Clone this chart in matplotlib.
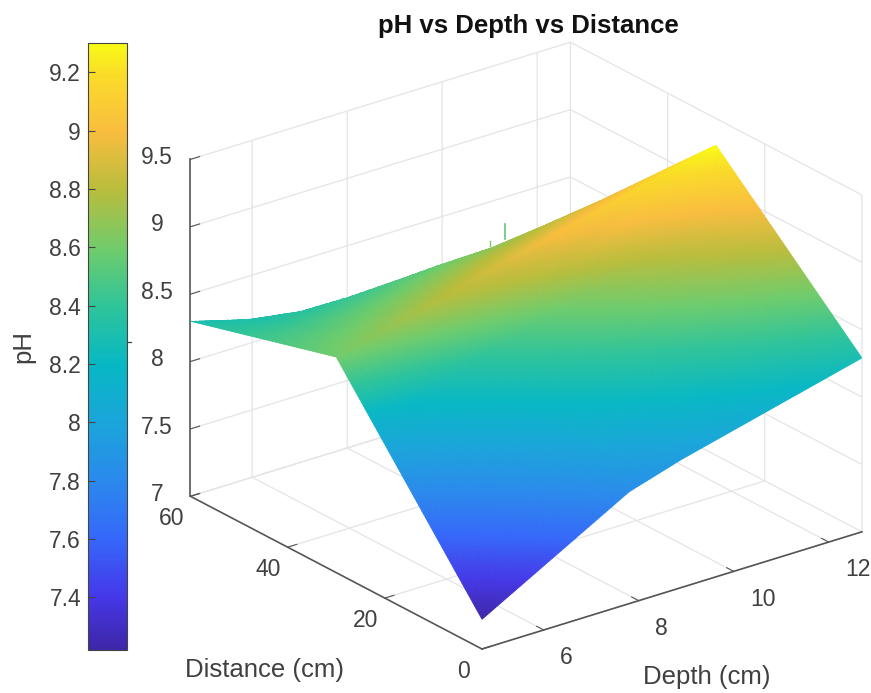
import numpy as np
import matplotlib
matplotlib.use("Agg")
import matplotlib.pyplot as plt
from matplotlib.colors import LinearSegmentedColormap, Normalize
from matplotlib.cm import ScalarMappable
from matplotlib.lines import Line2D
from matplotlib.ticker import FormatStrFormatter, FuncFormatter
from mpl_toolkits.mplot3d import proj3d

plt.rcParams['font.family'] = ['Liberation Sans', 'DejaVu Sans']

# ---- data ----
# near edge (distance 0)
near_depth = [4.7, 7.8, 8.9, 12.7]
near_ph = [7.22, 7.83, 7.95, 8.29]
# crease (distance 30)
crease_depth = [4.7, 12.7]
crease_ph = [8.60, 9.30]
# far crest of the surface, then the hidden far side
crest_depth = [4.7, 5.5, 6.2, 7.0, 7.8, 8.5, 9.3, 10.1, 11.0, 11.9, 12.7]
crest_dist = [59.9, 56, 52, 50, 48, 46, 43, 40, 37, 33, 30.5]
crest_ph = [8.30, 8.30, 8.36, 8.416, 8.49, 8.566, 8.665, 8.80, 8.947, 9.147, 9.285]
far_ph = [8.30, 8.18, 8.05, 7.95, 7.90, 7.90, 7.90, 7.90, 7.90, 7.90, 7.90]
# colour read in the front slope runs a little below the height there (distance 22)
tint_depth = [4.7, 8.0, 12.7]
tint_ph = [-0.13, -0.10, 0.0]

spike_depth = [11.32, 11.32]
spike_dist = [60, 60]
spike_ph = [8.19, 8.30]
spike2_depth = [11.0, 11.0]
spike2_dist = [60, 60]
spike2_ph = [8.17, 8.21]

title = 'pH vs Depth vs Distance'
xticks = [6, 8, 10, 12]
yticks = [0, 20, 40, 60]
zticks = [7, 7.5, 8, 8.5, 9, 9.5]
cticks = [7.4, 7.6, 7.8, 8.0, 8.2, 8.4, 8.6, 8.8, 9.0, 9.2]
xlim = (4.7, 12.7)
ylim = (0, 60)
zlim = (7, 9.5)
clim = (7.22, 9.30)

parula_pos = [0, .087, .183, .28, .375, .47, .567, .66, .76, .856, .95, 1]
parula_hex = ['#3e26a8', '#4538e8', '#3568fa', '#2a8aec', '#1aa5da', '#07b8c4',
              '#2fc49a', '#6fcc6c', '#b9bd3c', '#f9bd3f', '#fadc28', '#f9fb15']
parula = LinearSegmentedColormap.from_list('parula', list(zip(parula_pos, parula_hex)), N=256)
norm = Normalize(*clim)

TXT = '#404040'
FS = 16.5

fig = plt.figure(figsize=(8.71, 6.93), dpi=100, facecolor='white')
W, H = 871, 693

ax = fig.add_axes([0.1, 0.1, 0.8, 0.8 * W / H], projection='3d', proj_type='ortho',
                  computed_zorder=False)
ax.view_init(elev=23.7, azim=-127.5)
ax.set_box_aspect((479, 479, 368))
ax.set_xlim(*xlim)
ax.set_ylim(*ylim)
ax.set_zlim(*zlim)
ax.patch.set_alpha(0)

# smooth ("interp") shading: fine facets drawn over the read values
fx = np.linspace(xlim[0], xlim[1], 201)
fy = np.linspace(ylim[0], ylim[1], 161)
cols = []
tints = []
for v in fx:
    ds = np.interp(v, crest_depth, crest_dist)
    cols.append(np.interp(fy, [0, 30, ds, 60],
                          [np.interp(v, near_depth, near_ph),
                           np.interp(v, crease_depth, crease_ph),
                           np.interp(v, crest_depth, crest_ph),
                           np.interp(v, crest_depth, far_ph)]))
    tints.append(np.interp(fy, [0, 22, 30], [0, np.interp(v, tint_depth, tint_ph), 0]))
Zf = np.array(cols).T
Cf = Zf + np.array(tints).T
X, Y = np.meshgrid(fx, fy)
Cmid = (Cf[:-1, :-1] + Cf[1:, :-1] + Cf[:-1, 1:] + Cf[1:, 1:]) / 4
fc = parula(norm(Cmid))
ax.plot(spike_depth, spike_dist, spike_ph, color='#62c878', lw=1.2, zorder=1)
ax.plot(spike2_depth, spike2_dist, spike2_ph, color='#7ac765', lw=1.0, zorder=1)
ax.plot_surface(X, Y, Zf, facecolors=fc, rstride=1, cstride=1, shade=False,
                linewidth=0.5, antialiased=True, zorder=2)

ax.set_xticks(xticks)
ax.set_yticks(yticks)
ax.set_zticks(zticks)
ax.xaxis.set_major_formatter(FormatStrFormatter('%g'))
ax.yaxis.set_major_formatter(FormatStrFormatter('%g'))
ax.zaxis.set_major_formatter(FormatStrFormatter('%g'))
for a in (ax.xaxis, ax.yaxis, ax.zaxis):
    a.set_pane_color((1, 1, 1, 0))
    a.pane.set_edgecolor('#e4e4e4')
    a.pane.set_linewidth(1.0)
    a.line.set_color('#555555')
    a.line.set_linewidth(1.2)
    a._axinfo['grid'].update(color='#e4e4e4', linewidth=0.9)
    a._axinfo['tick'].update(inward_factor=0.0, outward_factor=0.3)
    a.set_tick_params(labelsize=FS, labelcolor=TXT, color='#555555', width=1.1)
ax.tick_params(axis='x', pad=8)
ax.tick_params(axis='y', pad=6)
ax.tick_params(axis='z', pad=6)
ax.set_zlabel('')

# place the box so that its front, left and right floor corners meet the picture's
target_F = np.array([482.0, H - 649.0])
target_R = np.array([862.0, H - 532.0])
for _ in range(4):
    fig.canvas.draw()
    M = ax.get_proj()
    px, py, _z = proj3d.proj_transform(np.array([xlim[0], xlim[1]]), np.array([ylim[0], ylim[0]]),
                                       np.array([zlim[0], zlim[0]]), M)
    pts = ax.transData.transform(np.column_stack((px, py)))
    span = np.hypot(*(pts[1] - pts[0]))
    tspan = np.hypot(*(target_R - target_F))
    pos = ax.get_position(original=True)
    wpx = pos.width * W * tspan / span
    scale = tspan / span
    l = pos.x0 * W
    b = pos.y0 * H
    cx, cy = l + pos.width * W / 2, b + pos.height * H / 2
    nF = np.array([cx, cy]) + (pts[0] - np.array([cx, cy])) * scale
    cx += target_F[0] - nF[0]
    cy += target_F[1] - nF[1]
    ax.set_position([(cx - wpx / 2) / W, (cy - wpx / 2) / H, wpx / W, wpx / H])

fig.canvas.draw()
for lbl in ax.zaxis.get_ticklabels():
    lbl.set_va('center')
for lbl in ax.yaxis.get_ticklabels():
    lbl.set_va('center')
for lbl in ax.xaxis.get_ticklabels():
    lbl.set_va('center')
    lbl.set_ha('left')

fig.text(528 / W, 1 - 26 / H, title, fontsize=18.5, fontweight='bold', color='#111111',
         ha='center', va='center')
fig.text(264 / W, 1 - 670 / H, 'Distance (cm)', fontsize=18.5, color=TXT, ha='center', va='center')
fig.text(707 / W, 1 - 677 / H, 'Depth (cm)', fontsize=18.5, color=TXT, ha='center', va='center')

# colorbar
cax = fig.add_axes([88 / W, 1 - 650 / H, 39 / W, 607 / H])
cb = fig.colorbar(ScalarMappable(norm=norm, cmap=parula), cax=cax)
cb.set_ticks(cticks)
cb.ax.yaxis.set_major_formatter(FuncFormatter(lambda v, p: f'{v:g}'))
cb.ax.yaxis.set_ticks_position('left')
cb.ax.yaxis.set_label_position('left')
cb.ax.tick_params(direction='in', length=5, width=0.8, color='#444444',
                  labelsize=FS, labelcolor=TXT, pad=5)
cb.outline.set_edgecolor('#444444')
cb.outline.set_linewidth(0.8)
cb.set_label('pH', fontsize=18.5, color=TXT, labelpad=10)
fig.add_artist(Line2D([127 / W, 131 / W], [1 - 342 / H, 1 - 342 / H], color='#444444', lw=0.9))

fig.savefig('out.png', dpi=100, facecolor='white')
